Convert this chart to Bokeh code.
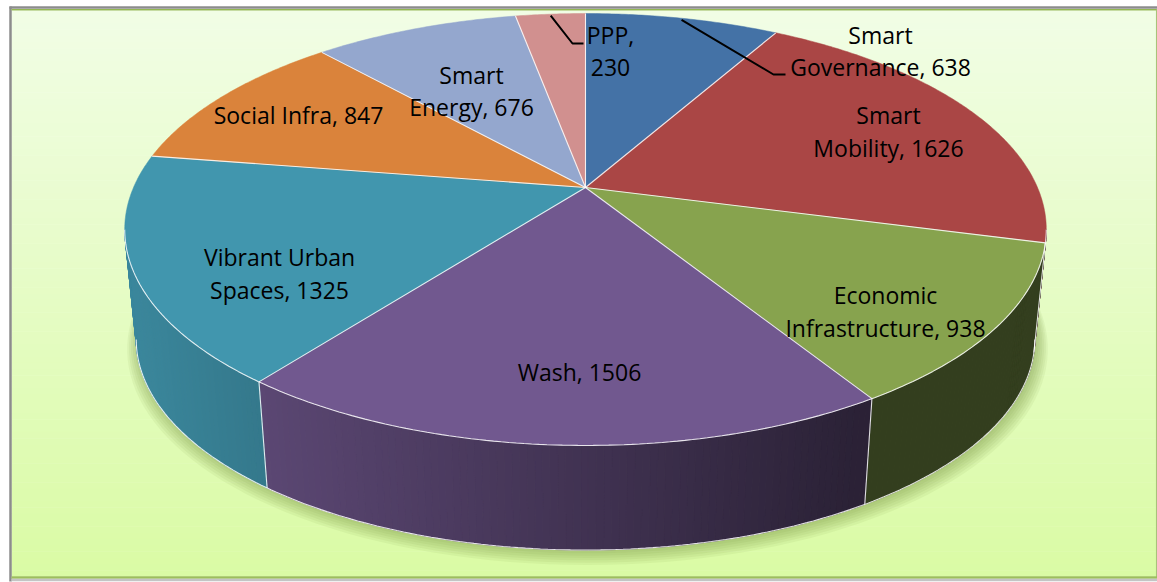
import math
from bokeh.plotting import figure
from bokeh.models import Range1d
from bokeh.core.properties import value
from bokeh.embed import file_html
from bokeh.resources import INLINE

# ---------------- data ----------------
categories = ["Smart Governance", "Smart Mobility", "Economic Infrastructure", "Wash",
              "Vibrant Urban Spaces", "Social Infra", "Smart Energy", "PPP"]
values = [638, 1626, 938, 1506, 1325, 847, 676, 230]
top_colors = ["#4472a6", "#aa4645", "#87a34e", "#71588f",
              "#4196ae", "#da833b", "#94a7ce", "#d1908f"]
# how many words of "<category>, <value>" go on the first label line (0 = single line)
label_first_line_words = [1, 1, 1, 0, 2, 0, 1, 1]

# ---------------- layout / style ----------------
W, H = 1157, 582
CX, CY = 585.0, 187.0          # apex of the pie (screen px)
A, B, K = 452.0, 207.8, 0.1944  # perspective ellipse parameters
S_BOT, DY_BOT = 0.975, 111.0    # bottom rim: scale and drop
label_centers = [(880, 50.4), (888, 131.2), (885, 311), (579, 371),
                 (279, 273.2), (298, 114), (471, 90.3), (610, 50.8)]
LINE_GAP = 32.5
leader_ends = {0: [(773, 74), (785, 74)], 7: [(572, 43), (583, 43)]}
FONT = "Open Sans"
FONT_SIZE = "23px"


def proj(phi_deg, r=1.0, bottom=False, scale=None, dx=0.0, dy=0.0):
    ph = math.radians(phi_deg)
    u = r * math.sin(ph)
    v = -r * math.cos(ph)
    den = 1.0 - K * v
    x = CX + A * u / den
    y = CY + B * v / den
    if bottom:
        s = S_BOT if scale is None else scale
        x = CX + s * (x - CX)
        y = CY + DY_BOT + s * (y - CY)
    return x + dx, y + dy


def hex2rgb(h):
    h = h.lstrip("#")
    return tuple(int(h[i:i + 2], 16) for i in (0, 2, 4))


def rgb2hex(c):
    return "#%02x%02x%02x" % tuple(max(0, min(255, int(round(v)))) for v in c)


total = float(sum(values))
bounds = [0.0]
for val in values:
    bounds.append(bounds[-1] + 360.0 * val / total)

p = figure(width=W, height=H, x_range=Range1d(0, W), y_range=Range1d(H, 0),
           output_backend="svg", toolbar_location=None, min_border=0,
           x_axis_location=None, y_axis_location=None)
p.grid.visible = False
p.outline_line_color = None
p.background_fill_color = "white"
p.border_fill_color = "white"

# ---- background gradient (chart area) ----
GX0, GX1, GY0, GY1 = 11, 1156, 10, 576
top_bg, bot_bg = (241, 253, 229), (218, 251, 165)
n_bg = 90
bl, br, bt, bb, bc = [], [], [], [], []
for i in range(n_bg):
    t = i / (n_bg - 1)
    y1 = GY0 + (GY1 - GY0) * i / n_bg
    y2 = GY0 + (GY1 - GY0) * (i + 1) / n_bg + 0.5
    bl.append(GX0); br.append(GX1); bt.append(y1); bb.append(min(y2, GY1))
    bc.append(rgb2hex([top_bg[k] + (bot_bg[k] - top_bg[k]) * t for k in range(3)]))
p.quad(left=bl, right=br, top=bt, bottom=bb, fill_color=bc, line_color=None)

# frame lines
p.segment(x0=[10], y0=[6], x1=[10], y1=[581], line_color="#8c8c8c", line_width=2.5)
p.segment(x0=[9], y0=[7], x1=[1157], y1=[7], line_color="#8c8c8c", line_width=2.5)
p.segment(x0=[11], y0=[9.3], x1=[1157], y1=[9.3], line_color="#93b752", line_width=1.5)
p.segment(x0=[1156.2], y0=[9], x1=[1156.2], y1=[577], line_color="#a9c27a", line_width=1.5)
p.segment(x0=[11], y0=[577], x1=[1157], y1=[577], line_color="#9dbf5c", line_width=2.5)
p.segment(x0=[11], y0=[579.5], x1=[1157], y1=[579.5], line_color="#c4c4c4", line_width=2.5)

# ---- shadow ----
for i in range(7):
    xs, ys = [], []
    for j in range(0, 361, 2):
        x, y = proj(j, bottom=True, scale=S_BOT + 0.004 * i, dx=2.0, dy=1.0 + 1.3 * i)
        xs.append(x); ys.append(y)
    p.patch(xs, ys, fill_color="#5f7d2a", fill_alpha=0.07, line_color=None)

# ---- side walls ----
phi_l = math.degrees(math.acos(-K))       # right silhouette
phi_r = 360.0 - phi_l                      # left silhouette


def shade(x):
    return max(0.38, 0.90 - 0.00071 * (x - 123.0))


sxs, sys_, scol = [], [], []
for i in range(len(values)):
    a0, a1 = max(bounds[i], phi_l), min(bounds[i + 1], phi_r)
    if a1 <= a0:
        continue
    n = max(1, int(math.ceil((a1 - a0) / 0.8)))
    base = hex2rgb(top_colors[i])
    for j in range(n):
        q0 = a0 + (a1 - a0) * j / n
        q1 = a0 + (a1 - a0) * (j + 1) / n
        p0, p1 = proj(q0), proj(q1)
        b1, b0 = proj(q1, bottom=True), proj(q0, bottom=True)
        sxs.append([p0[0], p1[0], b1[0], b0[0]])
        sys_.append([p0[1], p1[1], b1[1], b0[1]])
        f = shade((p0[0] + p1[0]) / 2.0)
        scol.append(rgb2hex([c * f for c in base]))
p.patches(sxs, sys_, fill_color=scol, line_color=scol, line_width=1)

# ---- top faces ----
txs, tys = [], []
for i in range(len(values)):
    a0, a1 = bounds[i], bounds[i + 1]
    n = max(2, int(math.ceil((a1 - a0) / 0.5)))
    xs, ys = [CX], [CY]
    for j in range(n + 1):
        x, y = proj(a0 + (a1 - a0) * j / n)
        xs.append(x); ys.append(y)
    txs.append(xs); tys.append(ys)
p.patches(txs, tys, fill_color=top_colors, line_color=top_colors, line_width=0.5)

# ---- white edges ----
ex, ey = [], []
for b in bounds[:-1]:
    x, y = proj(b)
    ex.append([CX, x]); ey.append([CY, y])
    if phi_l < b < phi_r:
        xb, yb = proj(b, bottom=True)
        ex.append([x, xb]); ey.append([y, yb])
fx, fy, gx, gy = [], [], [], []
m = 200
for j in range(m + 1):
    a = phi_l + (phi_r - phi_l) * j / m
    x, y = proj(a); fx.append(x); fy.append(y)
    x, y = proj(a, bottom=True); gx.append(x); gy.append(y)
ex += [fx, gx]; ey += [fy, gy]
p.multi_line(ex, ey, line_color="white", line_width=1.1, line_alpha=0.85)

# ---- leader lines ----
lx, ly = [], []
for i, pts in leader_ends.items():
    mid = (bounds[i] + bounds[i + 1]) / 2.0
    sx, sy = proj(mid, r=0.99)
    lx.append([sx] + [q[0] for q in pts]); ly.append([sy] + [q[1] for q in pts])
p.multi_line(lx, ly, line_color="black", line_width=2)

# ---- labels ----
tx, ty, tt = [], [], []
for i, (cat, val) in enumerate(zip(categories, values)):
    words = f"{cat}, {val}".split(" ")
    k = label_first_line_words[i]
    lines = [" ".join(words)] if k == 0 else [" ".join(words[:k]), " ".join(words[k:])]
    cx, cy = label_centers[i]
    n = len(lines)
    for j, ln in enumerate(lines):
        tx.append(cx)
        ty.append(cy + (j - (n - 1) / 2.0) * LINE_GAP)
        tt.append(ln)
p.text(x=tx, y=ty, text=tt, text_font=value(FONT), text_font_size=FONT_SIZE,
       text_align="center", text_baseline="middle", text_color="black")

open("out.html", "w").write(file_html(p, INLINE))
